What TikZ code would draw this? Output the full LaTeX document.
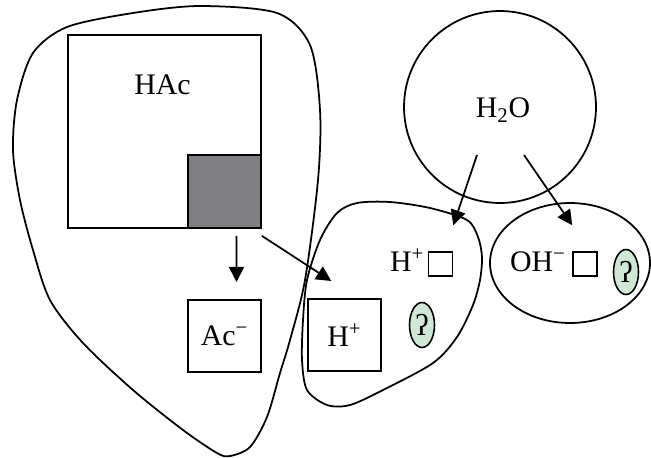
\documentclass[tikz,border=0pt]{standalone}
\usepackage{fontspec}
\setmainfont{Liberation Serif}
\usetikzlibrary{arrows.meta, positioning, shapes.geometric, calc}
\definecolor{acidgray}{RGB}{128,128,132}
\definecolor{ionmesh}{RGB}{206,232,212}

\begin{document}
\begin{tikzpicture}[
    x=0.02cm, y=-0.02cm,
    font=\fontsize{17}{20}\selectfont,
    sq/.style={draw, line width=0.9pt, rectangle, inner sep=0pt},
    bigsq/.style={sq, minimum size=3.86cm},
    ionbox/.style={sq, minimum width=1.46cm, minimum height=1.45cm},
    tinysq/.style={sq, minimum size=0.48cm},
    qoval/.style={draw, line width=0.9pt, ellipse, fill=ionmesh, minimum width=0.5cm, minimum height=0.9cm, inner sep=0pt},
    blob/.style={draw, line width=1pt},
    line/.style={draw, line width=1pt, -{Triangle[length=0.3cm, width=0.3cm]}}
]
    \useasboundingbox (0,0) rectangle (651,457);

    % Outlines
    \draw[blob] plot[smooth cycle, tension=0.5] coordinates {(230,456) (217,453) (183,430) (133,390) (83,343) (50,300) (33,250) (20,200) (13,150) (17,100) (33,53) (67,27) (133,13) (200,6) (277,13) (310,45) (320,110) (318,180) (305,280) (290,340) (280,373) (267,417) (250,447)};
    \draw[blob] plot[smooth cycle, tension=0.5] coordinates {(307,280) (320,240) (337,213) (357,203) (390,202) (430,208) (467,220) (478,237) (482,257) (480,280) (473,305) (457,337) (433,363) (383,390) (350,405) (327,405) (307,390) (302,360) (303,320)};

    % Nodes
    \node[bigsq] (hac) at (164.5,131.5) {};
    \node[sq, fill=acidgray, minimum size=1.46cm, anchor=south east] (part) at (hac.south east) {};
    \node (hactxt) at ($(hac.north)+(-2,51)$) {HAc};
    \node[ionbox] (ac) at (224.5,336) {Ac\textsuperscript{−}};
    \node[ionbox] (hplus) at (344.5,335) {H\textsuperscript{+}};

    \node[circle, draw, line width=1pt, minimum size=3.84cm] (water) at (500,107) {};
    \node (watertxt) at (503,110) {H\textsubscript{2}O};

    \node[tinysq] (hsq) at (440.5,264) {};
    \node[anchor=base east, inner sep=0pt] (hlbl) at ($(hsq.south west)+(-3,-5)$) {H\textsuperscript{+}};
    \node[qoval] (q1) at (422,325) {ʔ};

    \node[ellipse, draw, line width=1pt, minimum width=3.2cm, minimum height=2.4cm] (ohcell) at (570,263) {};
    \node[tinysq] (ohsq) at (585,264) {};
    \node[anchor=base east, inner sep=0pt] (ohlbl) at ($(ohsq.south west)+(-6,-5)$) {OH\textsuperscript{−}};
    \node[qoval] (q2) at (626,272) {ʔ};

    % Lines
    \draw[line] ($(part.south)+(12,7)$) -- ($(ac.north)+(12,-17)$);
    \draw[line] ($(part.south east)+(0,7)$) -- ($(hplus.north west)+(24,-17)$);
    \draw[line] ($(water.center)+(-23,48)$) -- ($(hsq.north east)+(0,-26)$);
    \draw[line] ($(water.center)+(24,48)$) -- ($(ohsq.north west)+(0,-26)$);

\end{tikzpicture}
\end{document}
